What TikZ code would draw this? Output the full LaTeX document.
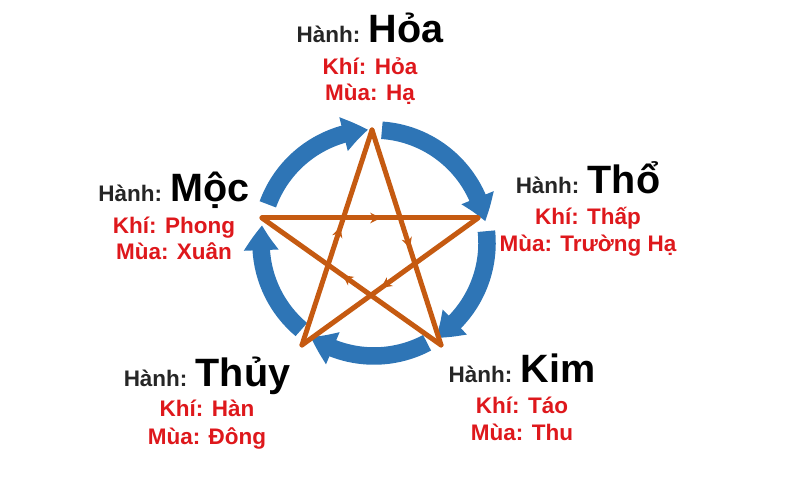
\documentclass[tikz,border=0pt]{standalone}
\usepackage{fontspec}
\setmainfont{Liberation Sans}
\usetikzlibrary{arrows.meta, bending, decorations.markings}
\definecolor{sinhblue}{RGB}{46,117,182}
\definecolor{khacorange}{RGB}{197,90,17}
\definecolor{khired}{RGB}{222,24,28}
\newcommand{\tenhanh}[1]{{\fontsize{22.5}{26}\selectfont\textcolor{black}{#1}}}

\begin{document}
\begin{tikzpicture}[
    hanh/.style={anchor=base, inner sep=0pt, text=black!85, font=\fontsize{12.8}{15}\selectfont\bfseries},
    khi/.style={anchor=base, inner sep=0pt, text=khired, font=\fontsize{12.8}{15}\selectfont\bfseries},
    sinh/.style={draw=sinhblue, line width=0.35cm, -{Triangle[width=0.66cm, length=0.5cm, bend]}},
    khac/.style={draw=khacorange, line width=0.1cm, line cap=round, postaction={decorate},
        decoration={markings, mark=at position 0.55 with {\arrow{Stealth[length=6pt, width=6pt]}}}}
]
            \useasboundingbox (0,0) rectangle (16,10);
            \coordinate (c) at (7.48,5.14);
            \coordinate (v-hoa) at (7.44,7.40);
            \coordinate (v-tho) at (9.56,5.64);
            \coordinate (v-kim) at (8.82,3.10);
            \coordinate (v-thuy) at (6.04,3.10);
            \coordinate (v-moc) at (5.24,5.64);
            % tuong sinh
            \draw [sinh] (c) ++(160:2.26) arc [start angle=160, end angle=93, radius=2.26];
            \draw [sinh] (c) ++(86:2.26) arc [start angle=86, end angle=11, radius=2.26];
            \draw [sinh] (c) ++(6:2.26) arc [start angle=6, end angle=-57, radius=2.26];
            \draw [sinh] (c) ++(-62:2.26) arc [start angle=-62, end angle=-124, radius=2.26];
            \draw [sinh] (c) ++(-130:2.26) arc [start angle=-130, end angle=-189, radius=2.26];
            % tuong khac
            \path (v-moc) edge [khac] (v-tho);
            \path (v-tho) edge [khac] (v-thuy);
            \path (v-thuy) edge [khac] (v-hoa);
            \path (v-hoa) edge [khac] (v-kim);
            \path (v-kim) edge [khac] (v-moc);
            % nam hanh
            \node [hanh] (hoa) at (7.40,9.14) {Hành: \tenhanh{Hỏa}};
            \node [khi] (hoa-khi) at (7.40,8.50) {Khí: Hỏa};
            \node [khi] (hoa-mua) at (7.40,7.98) {Mùa: Hạ};
            \node [hanh] (moc) at (3.48,5.96) {Hành: \tenhanh{Mộc}};
            \node [khi] (moc-khi) at (3.48,5.32) {Khí: Phong};
            \node [khi] (moc-mua) at (3.48,4.80) {Mùa: Xuân};
            \node [hanh] (tho) at (11.76,6.12) {Hành: \tenhanh{Thổ}};
            \node [khi] (tho-khi) at (11.76,5.50) {Khí: Thấp};
            \node [khi] (tho-mua) at (11.76,4.96) {Mùa: Trường Hạ};
            \node [hanh] (thuy) at (4.14,2.26) {Hành: \tenhanh{Thủy}};
            \node [khi] (thuy-khi) at (4.14,1.66) {Khí: Hàn};
            \node [khi] (thuy-mua) at (4.14,1.10) {Mùa: Đông};
            \node [hanh] (kim) at (10.44,2.34) {Hành: \tenhanh{Kim}};
            \node [khi] (kim-khi) at (10.44,1.72) {Khí: Táo};
            \node [khi] (kim-mua) at (10.44,1.18) {Mùa: Thu};
        \end{tikzpicture}
\end{document}
